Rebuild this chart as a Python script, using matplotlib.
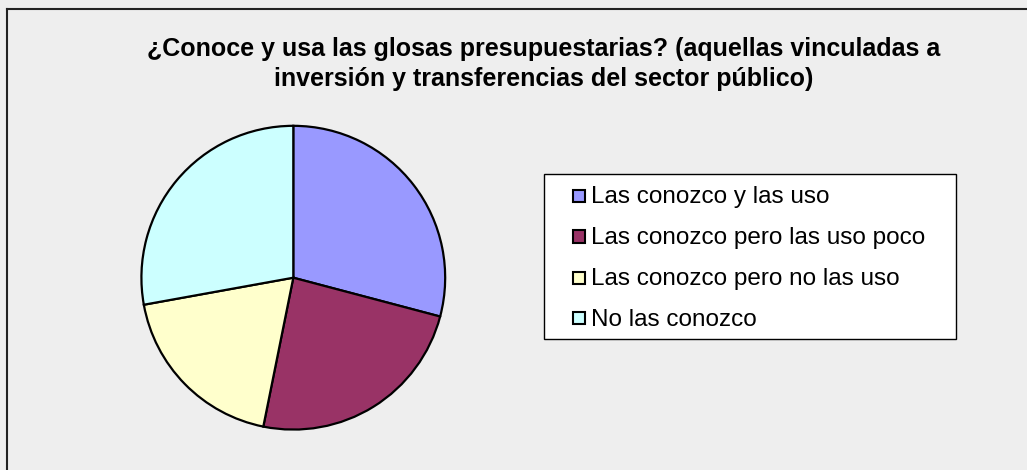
import matplotlib
matplotlib.use("Agg")
import matplotlib.pyplot as plt
from matplotlib.patches import Rectangle

categories = ["Las conozco y las uso", "Las conozco pero las uso poco",
              "Las conozco pero no las uso", "No las conozco"]
values = [23, 19, 15, 22]
colors = ["#9999FF", "#993366", "#FFFFCC", "#CCFFFF"]
title_lines = ["¿Conoce y usa las glosas presupuestarias? (aquellas vinculadas a",
               "inversión y transferencias del sector público)"]

W, H = 1027, 470
fig = plt.figure(figsize=(W / 100, H / 100), dpi=100)
fig.patch.set_facecolor("#EEEEEE")

# frame lines (top and left)
fig.add_artist(plt.Line2D([6.5 / W, 1], [1 - 8.5 / H, 1 - 8.5 / H], color="#222222", lw=1.5, transform=fig.transFigure))
fig.add_artist(plt.Line2D([6.5 / W, 6.5 / W], [0, 1 - 8.5 / H], color="#222222", lw=1.5, transform=fig.transFigure))

cx, cy, r = 293.3, 277.7, 153.4
ax = fig.add_axes([(cx - r) / W, 1 - (cy + r) / H, 2 * r / W, 2 * r / H])
wedges, _ = ax.pie(values, colors=colors, startangle=90, counterclock=False,
                   wedgeprops=dict(edgecolor="black", linewidth=1.6), radius=1)
ax.set_xlim(-1.01, 1.01)
ax.set_ylim(-1.01, 1.01)
ax.set_aspect("auto")
ax.axis("off")

for line, base in zip(title_lines, [56, 86]):
    fig.text(544 / W, 1 - base / H, line, ha="center", va="baseline", fontsize=18,
             family="Liberation Sans", fontweight="bold")

# legend box
lx0, ly0, lx1, ly1 = 543.5, 173.5, 955.5, 338.5
fig.add_artist(Rectangle((lx0 / W, 1 - ly1 / H), (lx1 - lx0) / W, (ly1 - ly0) / H,
                         transform=fig.transFigure, facecolor="white", edgecolor="black", lw=1.0))
rows = [203.5, 244, 285, 325.5]
for lab, col, yy in zip(categories, colors, rows):
    fig.add_artist(Rectangle((572.5 / W, 1 - (yy - 1.5) / H), 12 / W, 12 / H,
                             transform=fig.transFigure, facecolor=col, edgecolor="black", lw=1.5))
    fig.text(591 / W, 1 - yy / H, lab, ha="left", va="baseline", fontsize=17.5,
             family="Liberation Sans")

fig.savefig("out.png", dpi=100, facecolor=fig.get_facecolor())
